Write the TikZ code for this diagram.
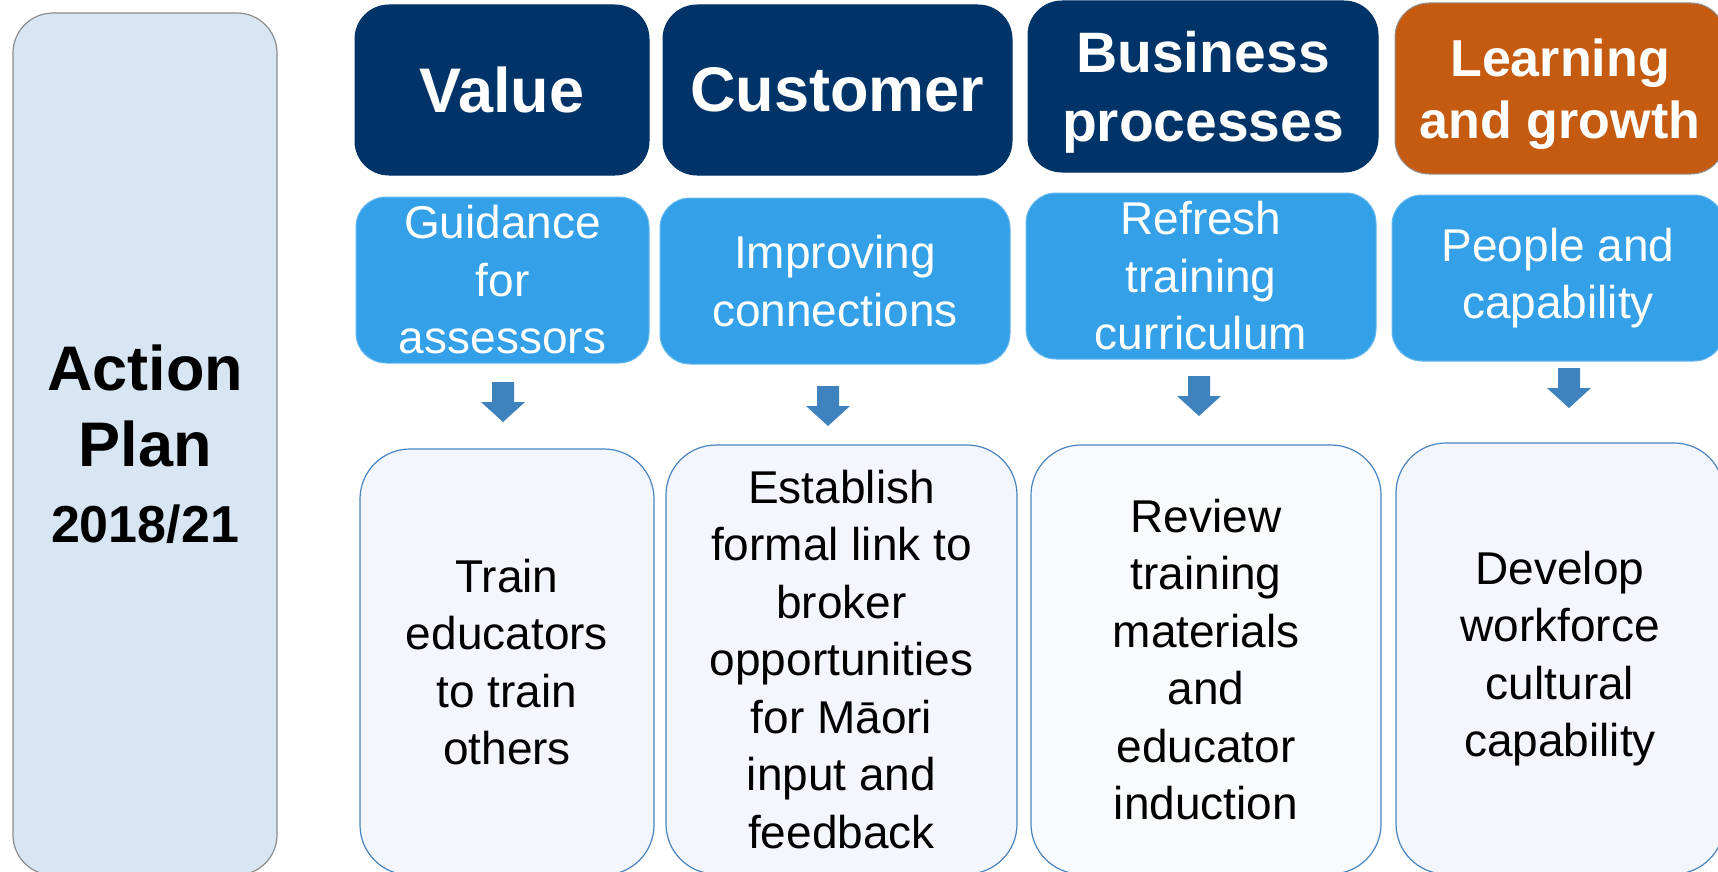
\documentclass[tikz,border=0pt]{standalone}
\usepackage{fontspec}
\setmainfont{Liberation Sans}
\definecolor{navy}{RGB}{0,52,104}
\definecolor{rust}{RGB}{197,90,17}
\definecolor{midblue}{RGB}{51,160,232}
\definecolor{arrowblue}{RGB}{62,130,190}
\definecolor{botfill}{RGB}{243,246,252}
\definecolor{botedge}{RGB}{72,132,192}
\definecolor{panelfill}{RGB}{216,229,242}
\definecolor{paneledge}{RGB}{140,140,140}
\begin{document}
\begin{tikzpicture}[x=1pt,y=-1pt,
  every node/.style={inner sep=0pt, outer sep=0pt, align=center, anchor=north west},
  headbox/.style={rectangle, rounded corners=34pt, fill=navy, draw=navy, line width=1pt,
    text=white},
  midbox/.style={rectangle, rounded corners=30pt, fill=midblue, draw=midblue!75!white, line width=1pt,
    text=white, font=\fontsize{46}{57.5}\selectfont},
  botbox/.style={rectangle, rounded corners=50pt, fill=botfill, draw=botedge, line width=1.2pt,
    text=black, font=\fontsize{46}{57.5}\selectfont},
  downarrow/.style={fill=arrowblue},
]
\clip (0,0) rectangle (1718,872);
\fill[white] (0,0) rectangle (1718,872);

% left panel
\node[rectangle, rounded corners=40pt, fill=panelfill, draw=paneledge, line width=1.2pt,
  minimum width=264pt, minimum height=862pt, font=\bfseries\fontsize{63}{76}\selectfont] (panel) at (13,13)
  {Action\\Plan\\\fontsize{52}{77}\selectfont 2018/21};

% header row
\node[headbox, minimum width=294pt, minimum height=170pt, font=\bfseries\fontsize{63}{72}\selectfont] (h1) at (355,5)
  {Value};
\node[headbox, minimum width=349pt, minimum height=170pt, font=\bfseries\fontsize{63}{72}\selectfont] (h2) at (663,5)
  {Customer};
\node[headbox, text depth=0pt, minimum width=350pt, minimum height=171pt, font=\bfseries\fontsize{57}{69}\selectfont] (h3) at (1028,1)
  {Business\\processes};
\node[headbox, text depth=0pt, fill=rust, draw=gray!85, minimum width=330pt, minimum height=171pt, font=\bfseries\fontsize{52}{62}\selectfont] (h4) at (1395,3)
  {Learning\\and growth};

% middle row
\node[midbox, minimum width=293pt, minimum height=166pt] (m1) at (356,197)
  {Guidance\\for\\assessors};
\node[midbox, minimum width=350pt, minimum height=166pt] (m2) at (660,198)
  {Improving\\connections};
\node[midbox, minimum width=350pt, minimum height=166pt] (m3) at (1026,193)
  {Refresh\\training\\curriculum};
\node[midbox, minimum width=332pt, minimum height=166pt] (m4) at (1392,195)
  {People and\\capability};

% bottom row
\node[botbox, minimum width=294pt, minimum height=426pt] (b1) at (360,449)
  {Train\\educators\\to train\\others};
\node[botbox, minimum width=351pt, minimum height=429pt] (b2) at (666,445)
  {Establish\\formal link to\\broker\\opportunities\\for Māori\\input and\\feedback};
\node[botbox, fill=botfill!50!white, minimum width=350pt, minimum height=429pt] (b3) at (1031,445)
  {Review\\training\\materials\\and\\educator\\induction};
\node[botbox, minimum width=328pt, minimum height=431pt] (b4) at (1396,443)
  {Develop\\workforce\\cultural\\capability};

% block arrows between rows
\coordinate (a1) at (503,382);
\coordinate (a2) at (828,386);
\coordinate (a3) at (1199,376);
\coordinate (a4) at (1569,368);
\foreach \a in {a1,a2,a3,a4}{
  \fill[downarrow] (\a) ++(-11,0) -- ++(22,0) -- ++(0,20) -- ++(11,0) -- ++(-22,20)
    -- ++(-22,-20) -- ++(11,0) -- cycle;
}
\end{tikzpicture}
\end{document}
